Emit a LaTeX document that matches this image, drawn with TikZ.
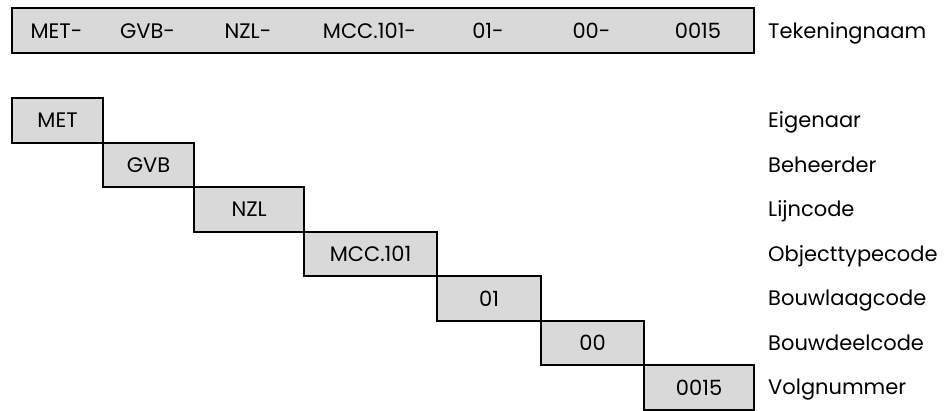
\documentclass[tikz,border=0pt]{standalone}
\usepackage{fontspec}
\setmainfont{Poppins}
\tikzset{
	codebox/.style={draw, line width=2.2pt, fill=boxgray, anchor=north west, inner sep=0pt, minimum height=44.5pt},
	fieldname/.style={anchor=base west, inner sep=0pt},
	part/.style={anchor=base, inner sep=0pt}
}
\definecolor{boxgray}{HTML}{D9D9D9}
\begin{document}
\begin{tikzpicture}[x=1pt,y=-1pt,font=\fontsize{21}{25}\selectfont]
	\useasboundingbox (0,0) rectangle (944,410);

	% volledige tekeningnaam
	\node[codebox, minimum width=742pt, minimum height=45pt] (naam) at (11,7) {};
	\node[part] (p1) at (56.5,38) {MET-};
	\node[part] (p2) at (147.5,38) {GVB-};
	\node[part] (p3) at (248,38) {NZL-};
	\node[part] (p4) at (369.5,38) {MCC.101-};
	\node[part] (p5) at (488,38) {01-};
	\node[part] (p6) at (591.5,38) {00-};
	\node[part] (p7) at (698,38) {0015};

	\node[fieldname] (tekeningnaam) at (768,38) {Tekeningnaam};

	% trap van de onderdelen
	\node[codebox, minimum width=91pt] (met) at (11,97) {MET};
	\node[codebox, minimum width=91pt] (gvb) at (102,141.5) {GVB};
	\node[codebox, minimum width=110pt] (nzl) at (193,186) {NZL};
	\node[codebox, minimum width=133pt] (mcc) at (303,230.5) {MCC.101};
	\node[codebox, minimum width=104pt] (bouwlaag) at (436,275) {01};
	\node[codebox, minimum width=103pt] (bouwdeel) at (540,319.5) {00};
	\node[codebox, minimum width=110pt] (volgnr) at (643,364) {0015};

	\node[fieldname] (eigenaar) at (768,127.75) {Eigenaar};
	\node[fieldname] (beheerder) at (768,172.25) {Beheerder};
	\node[fieldname] (lijncode) at (768,216.75) {Lijncode};
	\node[fieldname] (objecttype) at (768,261.25) {Objecttypecode};
	\node[fieldname] (bouwlaagcode) at (768,305.75) {Bouwlaagcode};
	\node[fieldname] (bouwdeelcode) at (768,350.25) {Bouwdeelcode};
	\node[fieldname] (volgnummer) at (768,394.75) {Volgnummer};
\end{tikzpicture}
\end{document}
